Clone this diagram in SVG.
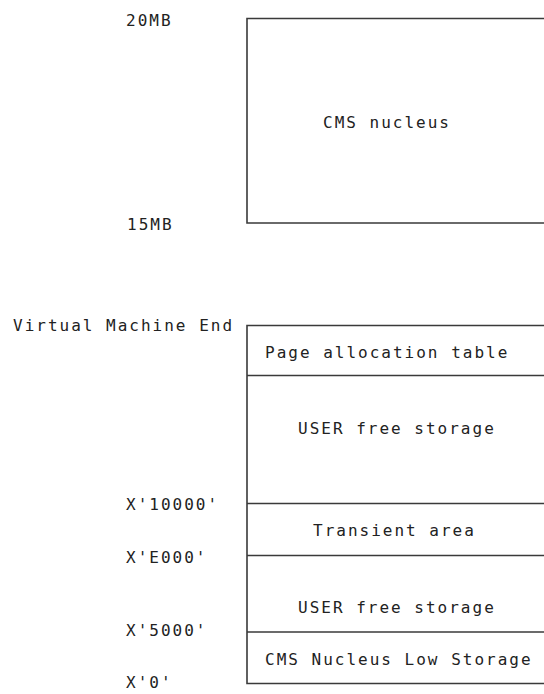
<svg xmlns="http://www.w3.org/2000/svg" width="544" height="694" viewBox="0 0 544 694">
<style>
  .ln { stroke: #3a3a3a; stroke-width: 1.6; fill: none; }
  .t { font-family: "DejaVu Sans Mono", "Liberation Mono", monospace; font-size: 16px; letter-spacing: 2px; fill: #222; }
</style>
<rect width="544" height="694" fill="#fff"/>
<g id="nucleus-box">
  <path class="ln" d="M544,18.5 H247 V223 H544"/>
  <text class="t" x="323" y="128">CMS nucleus</text>
</g>
<g id="labels-top">
  <text class="t" x="126" y="26">20MB</text>
  <text class="t" x="127" y="230">15MB</text>
</g>
<g id="vm-box">
  <path class="ln" d="M544,325.5 H247 V683.5 H544"/>
</g>
<g id="page-table">
  <text class="t" x="265" y="358">Page allocation table</text>
  <path class="ln" d="M247,375.5 H544"/>
</g>
<g id="user-free-high">
  <text class="t" x="298" y="434">USER free storage</text>
  <path class="ln" d="M247,503.5 H544"/>
</g>
<g id="transient">
  <text class="t" x="313" y="536">Transient area</text>
  <path class="ln" d="M247,555.5 H544"/>
</g>
<g id="user-free-low">
  <text class="t" x="298" y="613">USER free storage</text>
  <path class="ln" d="M247,632 H544"/>
</g>
<g id="nucleus-low">
  <text class="t" x="265" y="665">CMS Nucleus Low Storage</text>
</g>
<g id="labels-bottom">
  <text class="t" x="13" y="331">Virtual Machine End</text>
  <text class="t" x="126" y="510">X'10000'</text>
  <text class="t" x="126" y="563">X'E000'</text>
  <text class="t" x="126" y="636">X'5000'</text>
  <text class="t" x="126" y="688">X'0'</text>
</g>
</svg>
